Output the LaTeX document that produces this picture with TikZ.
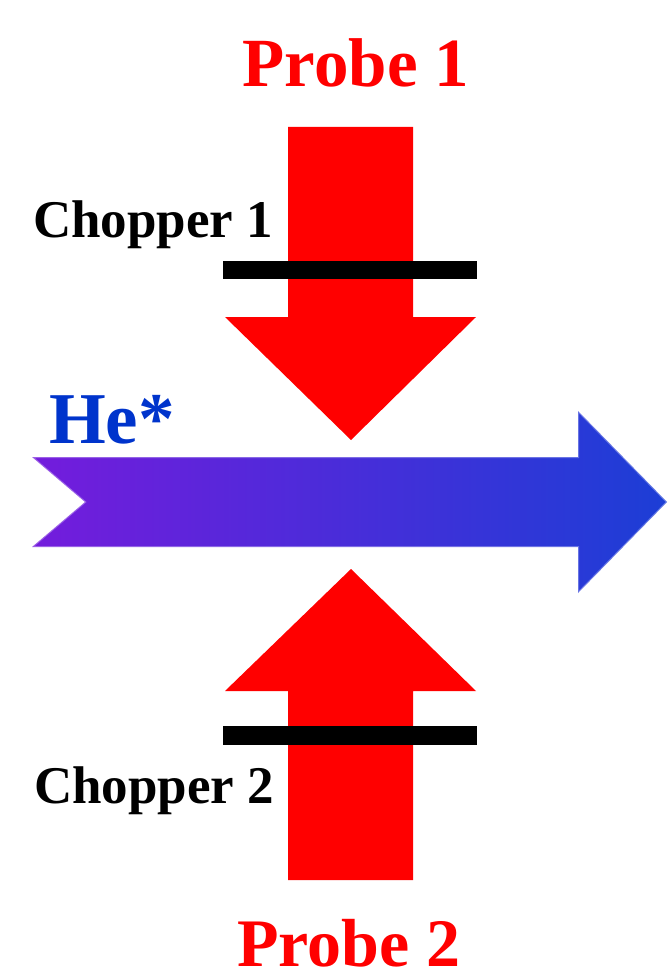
\documentclass[tikz,border=0pt]{standalone}
\usepackage{fontspec}
\setmainfont{Liberation Serif}
\usepackage{xcolor}
\definecolor{heviolet}{RGB}{116,28,220}
\definecolor{heblue}{RGB}{28,62,214}
\definecolor{hetext}{RGB}{0,52,204}

\begin{document}
\begin{tikzpicture}[x=1pt,y=-1pt,
  probe/.style={fill=red,draw=none},
  chopper/.style={fill=black,draw=none},
  lbl/.style={anchor=base,inner sep=0pt,font=\bfseries}]
  \useasboundingbox (0,0) rectangle (668,973);
  % He* beam
  \shade[left color=heviolet,right color=heblue,draw=white,draw opacity=0.3,line width=2pt]
    (32,457) -- (578,457) -- (578,411) -- (667,502) -- (578,593) -- (578,547) -- (32,547) -- (85,502) -- cycle;
  % probe beams
  \fill[probe] (288,127) -- (413,127) -- (413,317) -- (476,317) -- (351,440) -- (225,317) -- (288,317) -- cycle;
  \fill[probe] (351,569) -- (476,691) -- (413,691) -- (413,880) -- (288,880) -- (288,691) -- (225,691) -- cycle;
  % choppers
  \fill[chopper] (223,261) rectangle (477,279);
  \fill[chopper] (223,726) rectangle (477,745);
  % labels
  \node[lbl,red,font=\bfseries\fontsize{69}{69}\selectfont] (probe1) at (356,87) {Probe 1};
  \node[lbl,red,font=\bfseries\fontsize{68}{68}\selectfont] (probe2) at (349,966) {Probe 2};
  \node[lbl,font=\bfseries\fontsize{53}{53}\selectfont] (chopper1) at (153,238) {Chopper 1};
  \node[lbl,font=\bfseries\fontsize{53}{53}\selectfont] (chopper2) at (154,803) {Chopper 2};
  \node[lbl,hetext,font=\bfseries\fontsize{73}{73}\selectfont] (he) at (112,443) {He*};
\end{tikzpicture}
\end{document}
